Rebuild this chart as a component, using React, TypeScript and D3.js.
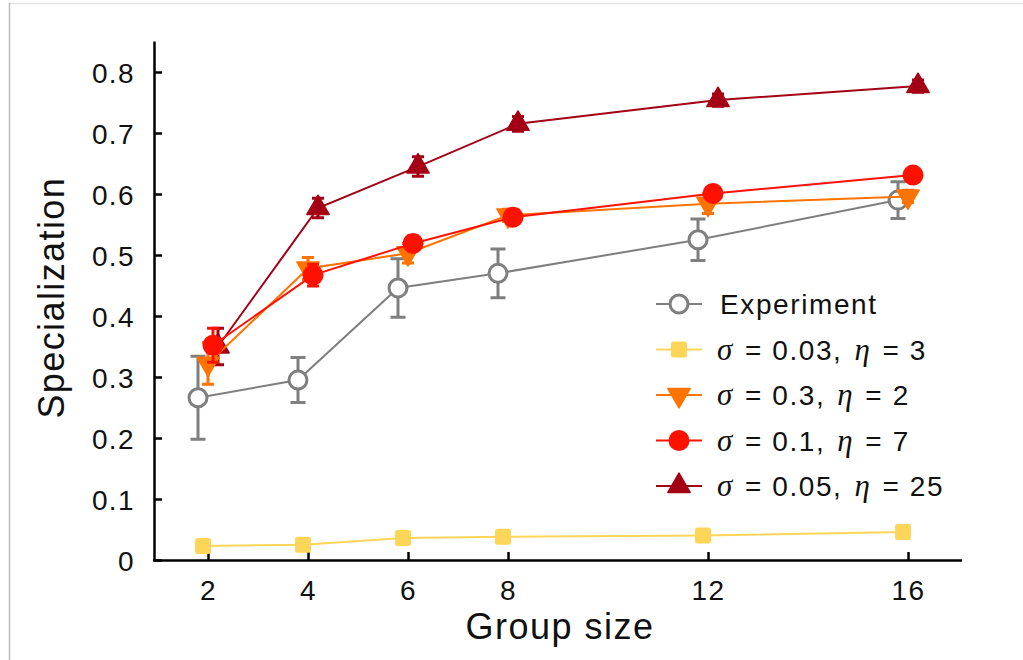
import { useEffect, useRef } from 'react';
import * as d3 from 'd3';

// group sizes on the x axis
const groupSizes = [2, 4, 6, 8, 12, 16];
const xTicks = [2, 4, 6, 8, 12, 16];
const yTicks = [0, 0.1, 0.2, 0.3, 0.4, 0.5, 0.6, 0.7, 0.8];

// experiment (mean, error)
const expMean = [0.266, 0.295, 0.446, 0.47, 0.525, 0.59];
const expErr = [0.068, 0.037, 0.048, 0.04, 0.034, 0.03];

// model runs
const sig003Mean = [0.023, 0.025, 0.036, 0.038, 0.04, 0.046];
const sig003Err = [0, 0, 0, 0, 0, 0];
const sig03Mean = [0.322, 0.478, 0.503, 0.565, 0.584, 0.596];
const sig03Err = [0.034, 0.018, 0.016, 0.01, 0.016, 0.01];
const sig01Mean = [0.352, 0.467, 0.519, 0.562, 0.601, 0.631];
const sig01Err = [0.028, 0.018, 0.012, 0.01, 0.01, 0.01];
const sig005Mean = [0.35, 0.577, 0.645, 0.715, 0.754, 0.777];
const sig005Err = [0.03, 0.016, 0.016, 0.012, 0.01, 0.01];

type Series = {
    key: string;
    sigma: string;
    eta: string;
    color: string;
    marker: 'open' | 'square' | 'down' | 'circle' | 'up';
    dodge: number;
    mean: number[];
    err: number[];
};

const series: Series[] = [
    { key: 'exp', sigma: '', eta: '', color: '#7f7f7f', marker: 'open', dodge: -0.2, mean: expMean, err: expErr },
    { key: 's003', sigma: '0.03', eta: '3', color: '#fdd558', marker: 'square', dodge: -0.1, mean: sig003Mean, err: sig003Err },
    { key: 's005', sigma: '0.05', eta: '25', color: '#a30015', marker: 'up', dodge: 0.2, mean: sig005Mean, err: sig005Err },
    { key: 's03', sigma: '0.3', eta: '2', color: '#ff7300', marker: 'down', dodge: 0, mean: sig03Mean, err: sig03Err },
    { key: 's01', sigma: '0.1', eta: '7', color: '#ff1100', marker: 'circle', dodge: 0.1, mean: sig01Mean, err: sig01Err },
];

const legendOrder = ['exp', 's003', 's03', 's01', 's005'];

const FONT = "'Liberation Sans', Arial, Helvetica, sans-serif";
const SERIF = "'Liberation Serif', 'Times New Roman', serif";

function drawMarker(g: any, type: string, color: string, x: number, y: number) {
    if (type === 'open') {
        g.append('circle').attr('cx', x).attr('cy', y).attr('r', 9)
            .attr('fill', '#fff').attr('stroke', color).attr('stroke-width', 3);
    } else if (type === 'circle') {
        g.append('circle').attr('cx', x).attr('cy', y).attr('r', 10.5).attr('fill', color);
    } else if (type === 'square') {
        g.append('rect').attr('x', x - 8).attr('y', y - 8).attr('width', 16).attr('height', 16)
            .attr('rx', 2.5).attr('fill', color);
    } else {
        const tri = d3.symbol().type(d3.symbolTriangle).size(215)();
        g.append('path').attr('d', tri)
            .attr('transform', `translate(${x},${y})${type === 'down' ? ' rotate(180)' : ''}`)
            .attr('fill', color).attr('stroke', color).attr('stroke-width', 1.5).attr('stroke-linejoin', 'round');
    }
}

export default function App() {
    const svgRef = useRef<SVGSVGElement>(null);

    useEffect(() => {
        if (!svgRef.current) return;
        const svg = d3.select(svgRef.current);
        svg.selectAll('*').remove();

        const x = d3.scaleLinear().domain([0.92, 17.08]).range([154, 962]);
        const y = d3.scaleLinear().domain([0, 0.85]).range([560, 41.5]);

        // faint image frame
        svg.append('line').attr('x1', 9.5).attr('x2', 1023).attr('y1', 3.5).attr('y2', 3.5)
            .attr('stroke', '#e4e4e4').attr('stroke-width', 1.5);
        svg.append('line').attr('x1', 9.5).attr('x2', 9.5).attr('y1', 3).attr('y2', 660)
            .attr('stroke', '#bdbdbd').attr('stroke-width', 1.5);

        // axes
        const yAxis = svg.append('g').attr('transform', 'translate(154,0)')
            .call(d3.axisRight(y).tickValues(yTicks).tickSize(8).tickFormat((d: any) => (d === 0 ? '0' : d3.format('.1f')(d))));
        yAxis.select('.domain').attr('stroke', '#000').attr('stroke-width', 2.5)
            .attr('d', `M0.5,${y(0.85)}V${y(0) + 1}`);
        yAxis.selectAll('.tick line').attr('stroke', '#000').attr('stroke-width', 2.5);
        yAxis.selectAll('.tick text').attr('x', -19).attr('dy', '0.36em').attr('text-anchor', 'end')
            .attr('font-family', FONT).attr('font-size', 28).attr('letter-spacing', 1.4).attr('fill', '#111');

        const xAxis = svg.append('g').attr('transform', 'translate(0,560)')
            .call(d3.axisTop(x).tickValues(xTicks).tickSize(8).tickFormat(d3.format('d') as any));
        xAxis.select('.domain').attr('stroke', '#000').attr('stroke-width', 2.5)
            .attr('d', `M${x.range()[0] - 1},0.5H${x.range()[1]}`);
        xAxis.selectAll('.tick line').attr('stroke', '#000').attr('stroke-width', 2.5);
        xAxis.selectAll('.tick text').attr('y', 40).attr('dy', 0)
            .attr('font-family', FONT).attr('font-size', 28).attr('letter-spacing', 1.4).attr('fill', '#111');

        // axis titles
        svg.append('text').attr('x', 560).attr('y', 639).attr('text-anchor', 'middle')
            .attr('font-family', FONT).attr('font-size', 36).attr('letter-spacing', 1.5).attr('fill', '#111').text('Group size');
        svg.append('text').attr('transform', `translate(64,${y(0.43)}) rotate(-90)`).attr('text-anchor', 'middle')
            .attr('font-family', FONT).attr('font-size', 36).attr('letter-spacing', 1.4).attr('fill', '#111').text('Specialization');

        series.forEach((s) => {
            const g = svg.append('g');
            const px = groupSizes.map((v) => x(v + s.dodge));
            const pts: [number, number][] = s.mean.map((m, i) => [px[i], y(m)]);
            g.append('path').attr('d', d3.line()(pts)).attr('fill', 'none')
                .attr('stroke', s.color).attr('stroke-width', 2);
            const cap = s.key === 'exp' ? 7.5 : 6;
            s.mean.forEach((m, i) => {
                if (!s.err[i]) return;
                const x0 = px[i];
                const y1 = y(m + s.err[i]);
                const y2 = y(m - s.err[i]);
                g.append('path')
                    .attr('d', `M${x0},${y1}V${y2}M${x0 - cap},${y1}H${x0 + cap}M${x0 - cap},${y2}H${x0 + cap}`)
                    .attr('stroke', s.color).attr('stroke-width', 3).attr('fill', 'none');
            });
            s.mean.forEach((m, i) => drawMarker(g, s.marker, s.color, px[i], y(m)));
        });

        // legend
        const leg = svg.append('g');
        legendOrder.forEach((k, i) => {
            const s = series.find((d) => d.key === k)!;
            const ly = 304 + i * 45.5;
            leg.append('line').attr('x1', 656).attr('x2', 702).attr('y1', ly).attr('y2', ly)
                .attr('stroke', s.color).attr('stroke-width', 2);
            drawMarker(leg, s.marker, s.color, 679, ly);
            const t = leg.append('text').attr('x', 717).attr('y', ly + 10)
                .attr('font-family', FONT).attr('font-size', 28).attr('letter-spacing', 1.6).attr('fill', '#111');
            if (s.key === 'exp') {
                t.attr('x', 720).text('Experiment');
            } else {
                t.append('tspan').attr('font-family', SERIF)
                    .attr('font-style', 'italic').attr('font-size', 31).text('σ');
                t.append('tspan').attr('dx', 11).text(`= ${s.sigma},`);
                t.append('tspan').attr('dx', 12).attr('font-family', SERIF)
                    .attr('font-style', 'italic').attr('font-size', 31).text('η');
                t.append('tspan').attr('dx', 11).text(`= ${s.eta}`);
            }
        });
    }, []);

    return (
        <svg
            ref={svgRef}
            width={1023}
            height={660}
            style={{ position: 'absolute', left: 0, top: 0, background: '#fff' }}
        />
    );
}
